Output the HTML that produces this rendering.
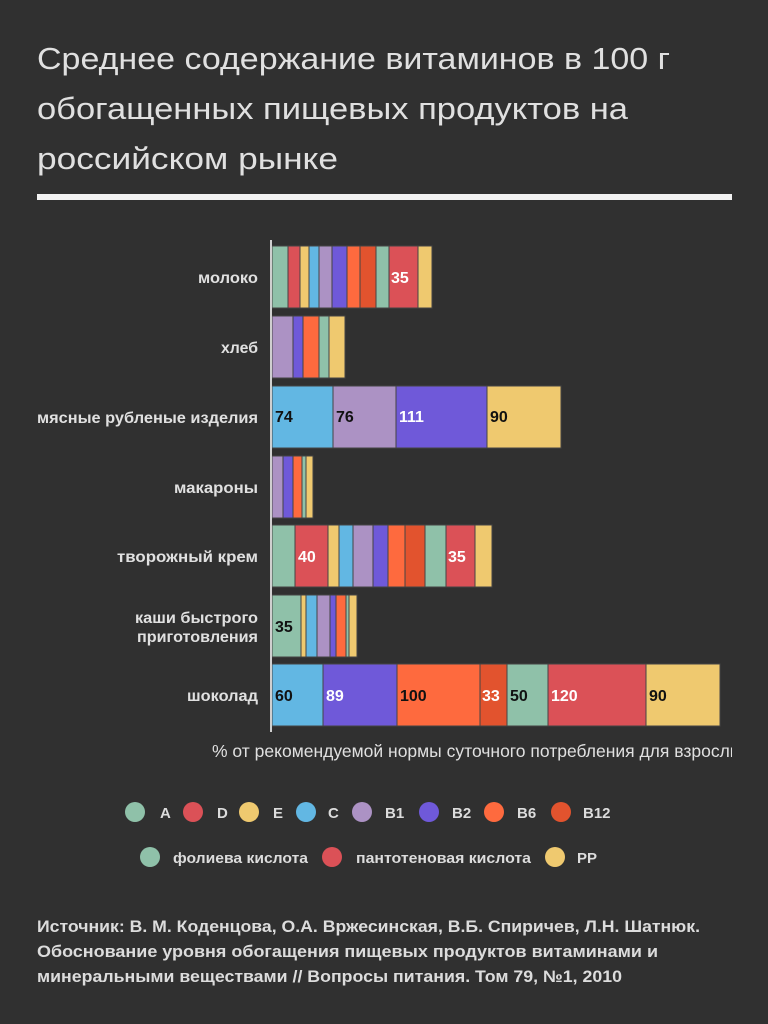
<!DOCTYPE html>
<html><head><meta charset="utf-8"><style>
body{margin:0;background:#303030;width:768px;height:1024px;overflow:hidden}
svg{display:block}
text{font-family:"Liberation Sans",sans-serif}
</style></head><body>
<svg width="768" height="1024" xmlns="http://www.w3.org/2000/svg">
<rect width="768" height="1024" fill="#303030"/>
<g fill="#e0e0e0" font-size="31">
<text x="37" y="69" textLength="633" lengthAdjust="spacingAndGlyphs">Среднее содержание витаминов в 100 г</text>
<text x="37" y="119" textLength="591" lengthAdjust="spacingAndGlyphs">обогащенных пищевых продуктов на</text>
<text x="37" y="169" textLength="301" lengthAdjust="spacingAndGlyphs">российском рынке</text>
</g>
<rect x="37" y="194" width="695" height="6" fill="#f2f2f2"/>
<g stroke="#444" stroke-width="1">
<rect x="272" y="246" width="16" height="62" fill="#8fc1a9"/>
<rect x="288" y="246" width="12" height="62" fill="#db5157"/>
<rect x="300" y="246" width="9" height="62" fill="#efc96f"/>
<rect x="309" y="246" width="10" height="62" fill="#62b7e3"/>
<rect x="319" y="246" width="13" height="62" fill="#ac92c4"/>
<rect x="332" y="246" width="15" height="62" fill="#6f59d9"/>
<rect x="347" y="246" width="13" height="62" fill="#fe6a3e"/>
<rect x="360" y="246" width="16" height="62" fill="#e2532e"/>
<rect x="376" y="246" width="13" height="62" fill="#8fc1a9"/>
<rect x="389" y="246" width="29" height="62" fill="#db5157"/>
<rect x="418" y="246" width="14" height="62" fill="#efc96f"/>
<rect x="272" y="316" width="21" height="62" fill="#ac92c4"/>
<rect x="293" y="316" width="10" height="62" fill="#6f59d9"/>
<rect x="303" y="316" width="16" height="62" fill="#fe6a3e"/>
<rect x="319" y="316" width="10" height="62" fill="#8fc1a9"/>
<rect x="329" y="316" width="16" height="62" fill="#efc96f"/>
<rect x="272" y="386" width="61" height="62" fill="#62b7e3"/>
<rect x="333" y="386" width="63" height="62" fill="#ac92c4"/>
<rect x="396" y="386" width="91" height="62" fill="#6f59d9"/>
<rect x="487" y="386" width="74" height="62" fill="#efc96f"/>
<rect x="272" y="456" width="11" height="62" fill="#ac92c4"/>
<rect x="283" y="456" width="10" height="62" fill="#6f59d9"/>
<rect x="293" y="456" width="9" height="62" fill="#fe6a3e"/>
<rect x="302" y="456" width="4" height="62" fill="#8fc1a9"/>
<rect x="306" y="456" width="7" height="62" fill="#efc96f"/>
<rect x="272" y="525" width="23" height="62" fill="#8fc1a9"/>
<rect x="295" y="525" width="33" height="62" fill="#db5157"/>
<rect x="328" y="525" width="11" height="62" fill="#efc96f"/>
<rect x="339" y="525" width="14" height="62" fill="#62b7e3"/>
<rect x="353" y="525" width="20" height="62" fill="#ac92c4"/>
<rect x="373" y="525" width="15" height="62" fill="#6f59d9"/>
<rect x="388" y="525" width="17" height="62" fill="#fe6a3e"/>
<rect x="405" y="525" width="20" height="62" fill="#e2532e"/>
<rect x="425" y="525" width="21" height="62" fill="#8fc1a9"/>
<rect x="446" y="525" width="29" height="62" fill="#db5157"/>
<rect x="475" y="525" width="17" height="62" fill="#efc96f"/>
<rect x="272" y="595" width="29" height="62" fill="#8fc1a9"/>
<rect x="301" y="595" width="5" height="62" fill="#efc96f"/>
<rect x="306" y="595" width="11" height="62" fill="#62b7e3"/>
<rect x="317" y="595" width="13" height="62" fill="#ac92c4"/>
<rect x="330" y="595" width="6" height="62" fill="#6f59d9"/>
<rect x="336" y="595" width="10" height="62" fill="#fe6a3e"/>
<rect x="346" y="595" width="3" height="62" fill="#8fc1a9"/>
<rect x="349" y="595" width="8" height="62" fill="#efc96f"/>
<rect x="272" y="664" width="51" height="62" fill="#62b7e3"/>
<rect x="323" y="664" width="74" height="62" fill="#6f59d9"/>
<rect x="397" y="664" width="83" height="62" fill="#fe6a3e"/>
<rect x="480" y="664" width="27" height="62" fill="#e2532e"/>
<rect x="507" y="664" width="41" height="62" fill="#8fc1a9"/>
<rect x="548" y="664" width="98" height="62" fill="#db5157"/>
<rect x="646" y="664" width="74" height="62" fill="#efc96f"/>
</g>
<rect x="270" y="240" width="2" height="492" fill="#cfcfcf"/>
<g font-size="16" font-weight="bold">
<g fill="#fff">
<text x="391" y="283">35</text>
<text x="298" y="562">40</text>
<text x="448" y="562">35</text>
<text x="399" y="422">111</text>
<text x="326" y="701">89</text>
<text x="482" y="701">33</text>
<text x="551" y="701">120</text>
</g>
<g fill="#111">
<text x="275" y="422">74</text>
<text x="336" y="422">76</text>
<text x="490" y="422">90</text>
<text x="275" y="632">35</text>
<text x="275" y="701">60</text>
<text x="400" y="701">100</text>
<text x="510" y="701">50</text>
<text x="649" y="701">90</text>
</g>
</g>
<g fill="#e0e0e0" text-anchor="end" font-size="15.5" font-weight="bold">
<text x="258" y="283" textLength="60" lengthAdjust="spacingAndGlyphs">молоко</text>
<text x="258" y="353" textLength="37" lengthAdjust="spacingAndGlyphs">хлеб</text>
<text x="258" y="423" textLength="221" lengthAdjust="spacingAndGlyphs">мясные рубленые изделия</text>
<text x="258" y="493" textLength="84" lengthAdjust="spacingAndGlyphs">макароны</text>
<text x="258" y="562" textLength="141" lengthAdjust="spacingAndGlyphs">творожный крем</text>
<text x="258" y="623" textLength="123" lengthAdjust="spacingAndGlyphs">каши быстрого</text>
<text x="258" y="642" textLength="121" lengthAdjust="spacingAndGlyphs">приготовления</text>
<text x="258" y="701" textLength="71" lengthAdjust="spacingAndGlyphs">шоколад</text>
</g>
<svg x="0" y="735" width="732" height="30"><text x="212" y="22" font-size="17.5" fill="#e0e0e0" font-family="Liberation Sans, sans-serif">% от рекомендуемой нормы суточного потребления для взрослых</text></svg>
<g font-size="15" font-weight="bold" fill="#dcdcdc">
<circle cx="135" cy="812" r="10" fill="#8fc1a9"/><text x="160" y="818">A</text>
<circle cx="193" cy="812" r="10" fill="#db5157"/><text x="217" y="818">D</text>
<circle cx="249" cy="812" r="10" fill="#efc96f"/><text x="273" y="818">E</text>
<circle cx="306" cy="812" r="10" fill="#62b7e3"/><text x="328" y="818">C</text>
<circle cx="362" cy="812" r="10" fill="#ac92c4"/><text x="385" y="818">B1</text>
<circle cx="429" cy="812" r="10" fill="#6f59d9"/><text x="452" y="818">B2</text>
<circle cx="494" cy="812" r="10" fill="#fe6a3e"/><text x="517" y="818">B6</text>
<circle cx="561" cy="812" r="10" fill="#e2532e"/><text x="583" y="818">B12</text>
<circle cx="150" cy="857" r="10" fill="#8fc1a9"/><text x="173" y="863" textLength="135" lengthAdjust="spacingAndGlyphs">фолиева кислота</text>
<circle cx="332" cy="857" r="10" fill="#db5157"/><text x="356" y="863" textLength="175" lengthAdjust="spacingAndGlyphs">пантотеновая кислота</text>
<circle cx="555" cy="857" r="10" fill="#efc96f"/><text x="577" y="863">PP</text>
</g>
<g font-size="16.5" font-weight="bold" fill="#dcdcdc">
<text x="37" y="932" textLength="663" lengthAdjust="spacingAndGlyphs">Источник: В. М. Коденцова, О.А. Вржесинская, В.Б. Спиричев, Л.Н. Шатнюк.</text>
<text x="37" y="957" textLength="621" lengthAdjust="spacingAndGlyphs">Обоснование уровня обогащения пищевых продуктов витаминами и</text>
<text x="37" y="982" textLength="585" lengthAdjust="spacingAndGlyphs">минеральными веществами // Вопросы питания. Том 79, №1, 2010</text>
</g>
</svg>
</body></html>
